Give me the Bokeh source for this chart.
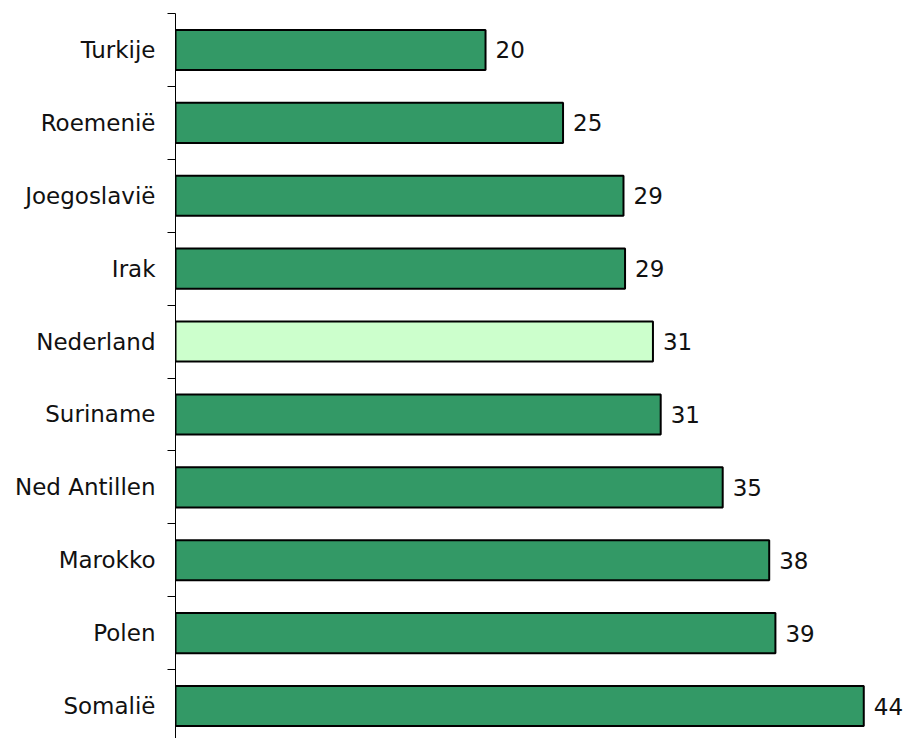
from bokeh.plotting import figure
from bokeh.models import ColumnDataSource, Range1d, FixedTicker, LinearAxis
from bokeh.core.properties import value
from bokeh.embed import file_html
from bokeh.resources import INLINE

# ---- data (top to bottom) ----
categories = ["Turkije", "Roemenië", "Joegoslavië", "Irak", "Nederland",
              "Suriname", "Ned Antillen", "Marokko", "Polen", "Somalië"]
values = [20.0, 25.0, 28.9, 29.0, 30.8, 31.3, 35.3, 38.3, 38.7, 44.4]
highlight = "Nederland"

FONT = "DejaVu Sans"
positions = list(range(len(categories)))
colors = ["#CCFFCC" if c == highlight else "#339966" for c in categories]
labels = [f"{v:.0f}" for v in values]

src = ColumnDataSource(dict(y=positions, v=values, color=colors, label=labels))

p = figure(width=909, height=738, output_backend="svg", toolbar_location=None,
           x_range=Range1d(0, 47.35), y_range=Range1d(9.445, -0.5),
           x_axis_location=None, y_axis_location=None,
           min_border_left=175, min_border_right=0,
           min_border_top=13, min_border_bottom=0)
p.outline_line_color = None
p.background_fill_color = "white"
p.border_fill_color = "white"
p.grid.visible = False

p.hbar(y="y", left=0, right="v", height=0.55, source=src,
       fill_color="color", line_color="black", line_width=2)

p.text(x="v", y="y", text="label", source=src, x_offset=10,
       text_baseline="middle", text_align="left",
       text_font=value(FONT), text_font_size="23px", text_color="#111111")

yaxis = LinearAxis(
    ticker=FixedTicker(ticks=positions,
                       minor_ticks=[i - 0.5 for i in range(len(categories) + 1)]),
    major_label_overrides={i: c for i, c in zip(positions, categories)},
)
yaxis.axis_line_color = "#000000"
yaxis.axis_line_width = 1
yaxis.major_tick_line_color = None
yaxis.major_tick_out = 0
yaxis.major_tick_in = 0
yaxis.minor_tick_line_color = "#000000"
yaxis.minor_tick_out = 8
yaxis.minor_tick_in = 0
yaxis.major_label_standoff = 12
yaxis.major_label_text_font = FONT
yaxis.major_label_text_font_size = "23px"
yaxis.major_label_text_color = "#111111"
p.add_layout(yaxis, "left")

open("out.html", "w").write(file_html(p, INLINE))
